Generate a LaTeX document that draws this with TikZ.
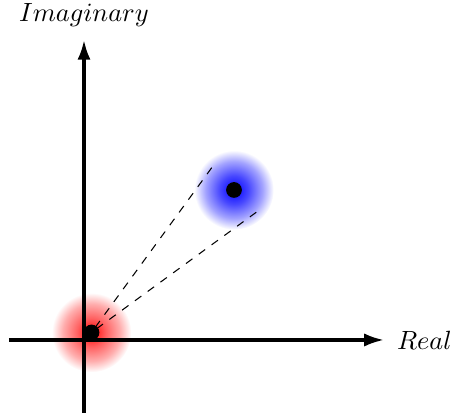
\documentclass[tikz,border=0pt]{standalone}
\usetikzlibrary{arrows.meta,calc}
\definecolor{ink}{HTML}{000000}
\pgfdeclareradialshading{redglow}{\pgfpointorigin}{color(0bp)=(red);color(9bp)=(red!62);color(18bp)=(red!32);color(25bp)=(white)}
\pgfdeclareradialshading{blueglow}{\pgfpointorigin}{color(0bp)=(blue);color(9bp)=(blue!72);color(18bp)=(blue!36);color(25bp)=(white)}
\tikzset{
  axis/.style={-{Latex[length=7.5pt,width=5pt]},line width=1.2pt,draw=ink},
  glow/.style={circle,inner sep=0pt,minimum size=1.06cm,shade},
  dot/.style={circle,fill=ink,inner sep=0pt,minimum size=0.21cm},
  sight/.style={dashed,line width=0.4pt,draw=ink},
  axlab/.style={font=\normalsize,text=ink}}
\begin{document}
\begin{tikzpicture}
\useasboundingbox (-1.12,-1.053) rectangle (4.92,4.533);
\node[glow,shading=redglow] (rglow) at (0.1,0.1) {};
\node[glow,shading=blueglow] (bglow) at (2,2) {};
\coordinate (xmin) at (-1,0);\coordinate (xmax) at (4,0);
\coordinate (ymin) at (0,-0.97);\coordinate (ymax) at (0,4);
\draw[axis] (xmin) -- (xmax) node[axlab,right,xshift=1pt] {$Real$};
\draw[axis] (ymin) -- (ymax) node[axlab,above,yshift=1pt] {$Imaginary$};
\coordinate (tup) at ($(bglow.center)+(135:0.42)$);
\coordinate (tdn) at ($(bglow.center)+(-45:0.42)$);
\draw[sight] (tup) -- (rglow.center);
\draw[sight] (tdn) -- (rglow.center);
\node[dot] (redpt) at (rglow.center) {};
\node[dot] (bluept) at (bglow.center) {};
\end{tikzpicture}
\end{document}
